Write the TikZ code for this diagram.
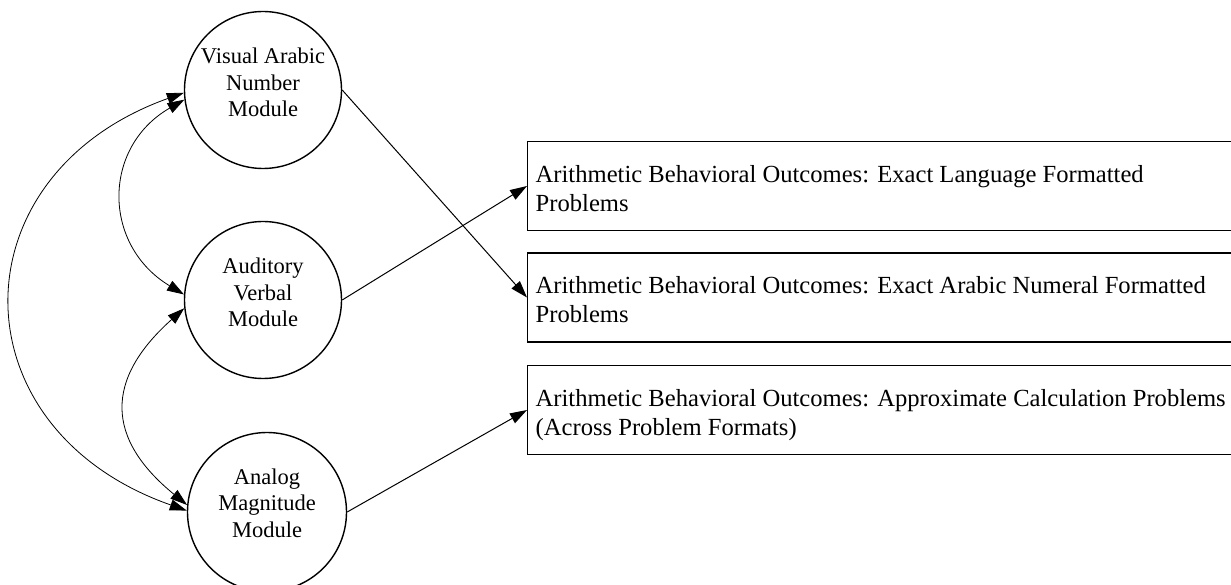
\documentclass[tikz,border=0pt]{standalone}
\usepackage{fontspec}
\setmainfont{Liberation Serif}
\usetikzlibrary{arrows.meta}
\newcommand\circtext[2]{\raisebox{#1}[\height][\depth]{\begin{tabular}{@{}c@{}}#2\end{tabular}}}
\newcommand\boxtext[2]{\parbox[c][89pt][t]{700pt}{\rule{0pt}{41pt}#1\\#2}}
\tikzset{
  module/.style={circle, draw, line width=1.4pt, minimum size=157pt, inner sep=0pt,
    font=\fontsize{22.5pt}{26.5pt}\selectfont},
  outcome/.style={rectangle, draw, line width=1.4pt, inner xsep=8pt, inner ysep=0pt,
    anchor=west, font=\fontsize{24.6pt}{29pt}\selectfont},
  link/.style={line width=1pt, -{Triangle[length=17pt,width=11pt]}},
  dlink/.style={line width=0.8pt, {Triangle[length=17pt,width=11pt]}-{Triangle[length=17pt,width=11pt]}}
}
\begin{document}
\begin{tikzpicture}[x=1pt,y=1pt]
\path[use as bounding box, clip] (0,0) rectangle (1231,584);
\node[module] (vis) at (263,494) {\circtext{5pt}{Visual Arabic\\Number\\Module}};
\node[module] (aud) at (263,284) {\circtext{5pt}{Auditory\\Verbal\\Module}};
\node[module, minimum size=159pt] (ana) at (267,72) {\circtext{6.5pt}{Analog\\Magnitude\\Module}};
\node[outcome] (b1) at (527,398) {\boxtext{Arithmetic Behavioral Outcomes: Exact Language Formatted}{Problems}};
\node[outcome] (b2) at (527,286.5) {\boxtext{Arithmetic Behavioral Outcomes: Exact Arabic Numeral Formatted}{Problems}};
\node[outcome] (b3) at (527,174) {\boxtext{Arithmetic Behavioral Outcomes: Approximate Calculation Problems}{(Across Problem Formats)}};
\draw[link] (vis.east) -- (b2.west);
\draw[link] (aud.east) -- (b1.west);
\draw[link] (ana.east) -- (b3.west);
\draw[dlink] (vis.187) .. controls (102,437) and (102,339) .. (aud.176);
\draw[dlink] (aud.186) .. controls (105,205) and (105,146) .. (ana.175);
\draw[dlink] (vis.182) .. controls (-46,409) and (-46,155) .. (ana.179);
\end{tikzpicture}
\end{document}
